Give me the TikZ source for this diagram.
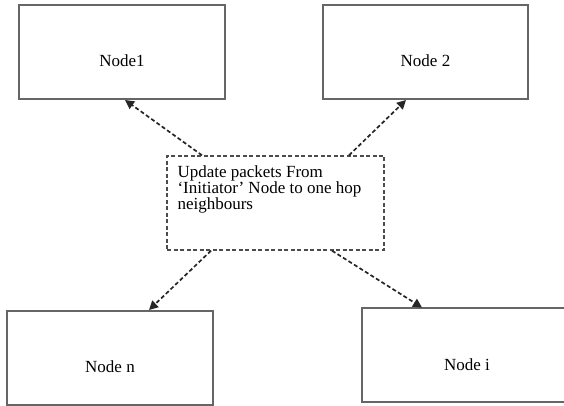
\documentclass[tikz,border=0pt]{standalone}
\usepackage{fontspec}
\setmainfont{Liberation Serif}
\usetikzlibrary{arrows.meta}

\begin{document}
\begin{tikzpicture}[x=1pt,y=1pt,font=\fontsize{17}{16}\selectfont,
  nodebox/.style={draw=black!60,line width=2pt,minimum height=94,text height=30pt,text depth=0pt},
  msgbox/.style={draw=black!70,line width=1.4pt,dash pattern=on 4pt off 2.5pt,minimum width=217,minimum height=94},
  hop/.style={draw=black!85,line width=1.7pt,dash pattern=on 4pt off 2.5pt,-{Triangle[length=9pt,width=9pt]}}]
\useasboundingbox (0,0) rectangle (564,406);
\node[nodebox,minimum width=206] (n1) at (122,354) {Node1};
\node[nodebox,minimum width=205] (n2) at (425.5,354) {Node 2};
\node[nodebox,minimum width=206] (nn) at (110,48) {Node n};
\node[nodebox,minimum width=210] (ni) at (467,50.5) {Node i};
\node[msgbox] (upd) at (275.5,203) {};
\node[anchor=north west,align=left,inner sep=0pt] (msg) at ([xshift=11,yshift=-10]upd.north west)
  {Update packets From\\`Initiator' Node to one hop\\neighbours};
% one hop each way out of the update box
\draw[hop] ([xshift=-73.5]upd.north) -- ([xshift=3]n1.south);
\draw[hop] ([xshift=73.5]upd.north) -- ([xshift=-19.5]n2.south);
\draw[hop] ([xshift=-64.5]upd.south) -- ([xshift=39]nn.north);
\draw[hop] ([xshift=56.5]upd.south) -- ([xshift=-45]ni.north);
\end{tikzpicture}
\end{document}
